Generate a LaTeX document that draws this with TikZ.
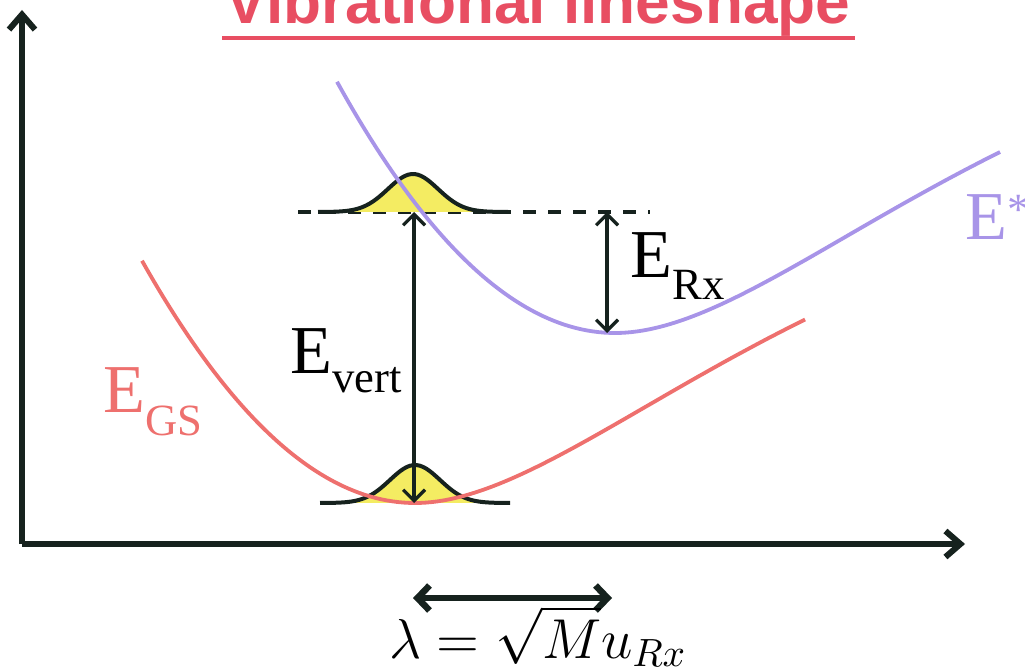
\documentclass[tikz,border=0pt]{standalone}
\usepackage{fix-cm}
\usepackage{fontspec}
\usepackage{amsmath}
\usetikzlibrary{arrows.meta}
\newfontfamily\serifE{Liberation Serif}
\newfontfamily\titlesf{Liberation Sans}
\definecolor{gsred}{RGB}{238,112,110}
\definecolor{exviolet}{RGB}{168,148,232}
\definecolor{titlered}{RGB}{232,78,98}
\definecolor{wavefill}{RGB}{244,236,98}
\definecolor{inkblack}{RGB}{22,34,30}
\newcommand{\lowsub}[2]{\raisebox{-#1}{\fontsize{12.7}{13}\selectfont #2}}

\tikzset{
  declare function={pes(\d)=(\d<0) ? 0.325*(0.1*\d)*(0.1*\d) : 385*(1-exp(-0.003*\d))*(1-exp(-0.003*\d));
                    wave(\d)=38*exp(-0.5*(\d/25)*(\d/25));},
  axis/.style={inkblack, line width=0.6mm, -{Straight Barb[length=1.5mm,width=2.6mm]}},
  gap/.style={inkblack, line width=0.32mm, {Straight Barb[length=1.1mm,width=2.2mm]}-{Straight Barb[length=1.1mm,width=2.2mm]}},
  wide/.style={inkblack, line width=0.65mm, {Straight Barb[length=1.2mm,width=2.5mm]}-{Straight Barb[length=1.2mm,width=2.5mm]}},
  level/.style={inkblack, line width=0.4mm},
  gscurve/.style={gsred, line width=0.38mm},
  excurve/.style={exviolet, line width=0.38mm},
  elabel/.style={anchor=base west, inner sep=0, font=\serifE\fontsize{19.5}{20}\selectfont},
}

\begin{document}
\begin{tikzpicture}[x=0.1mm, y=-0.1mm]
\useasboundingbox (0,0) rectangle (1025,670);
\clip (0,0) rectangle (1025,670);

% axes
\coordinate (O) at (22,544);
\coordinate (ytop) at (22,10);
\coordinate (xend) at (965,544);
\draw[axis] (O) -- (ytop);
\draw[axis] (O) -- (xend);

% title, cut at the top
\node[anchor=base, inner sep=0, text=titlered, font=\titlesf\bfseries\fontsize{17.7}{18}\selectfont] (title) at (538,24) {Vibrational lineshape};
\coordinate (ulL) at (222,38);
\coordinate (ulR) at (855,38);
\draw[titlered, line width=0.4mm] (ulL) -- (ulR);

% vibrational levels
\coordinate (dashL) at (298,212);
\coordinate (dashR) at (650,212);
\draw[level, dash pattern=on 1.3mm off 1.2mm] (dashL) -- (dashR);
\foreach \cx/\by in {413/212, 415/503}{
  \fill[wavefill] plot[domain=-95:95, samples=60] ({\cx+\x},{\by-wave(\x)}) -- cycle;
  \draw[level] plot[domain=-95:95, samples=60] ({\cx+\x},{\by-wave(\x)});
}

% potential curves
\draw[gscurve] plot[domain=142:805, samples=120] (\x,{503-pes(\x-415)});
\draw[excurve] plot[domain=337:1000, samples=120] (\x,{333-pes(\x-615)});

% energies
\coordinate (vtop) at (414,212);
\coordinate (vbot) at (414,503);
\draw[gap] (vtop) -- (vbot);
\coordinate (rxtop) at (607,212);
\coordinate (rxbot) at (607,333);
\draw[gap] (rxtop) -- (rxbot);
\coordinate (lamL) at (413,598);
\coordinate (lamR) at (612,598);
\draw[wide] (lamL) -- (lamR);

% labels
\node[elabel] (evert) at (290,373) {E\lowsub{2mm}{vert}};
\node[elabel] (erx) at (630,278) {E\lowsub{2.2mm}{Rx}};
\node[elabel, text=gsred] (egs) at (103,412) {E\lowsub{2.3mm}{GS}};
\node[elabel, text=exviolet] (estar) at (965,240) {E\raisebox{1.5mm}{\fontsize{12.7}{13}\selectfont *}};
\node[anchor=base, inner sep=0] (lam) at (538,658) {\fontsize{16}{18}\selectfont$\lambda = \sqrt{M}u_{Rx}$};
\end{tikzpicture}
\end{document}
